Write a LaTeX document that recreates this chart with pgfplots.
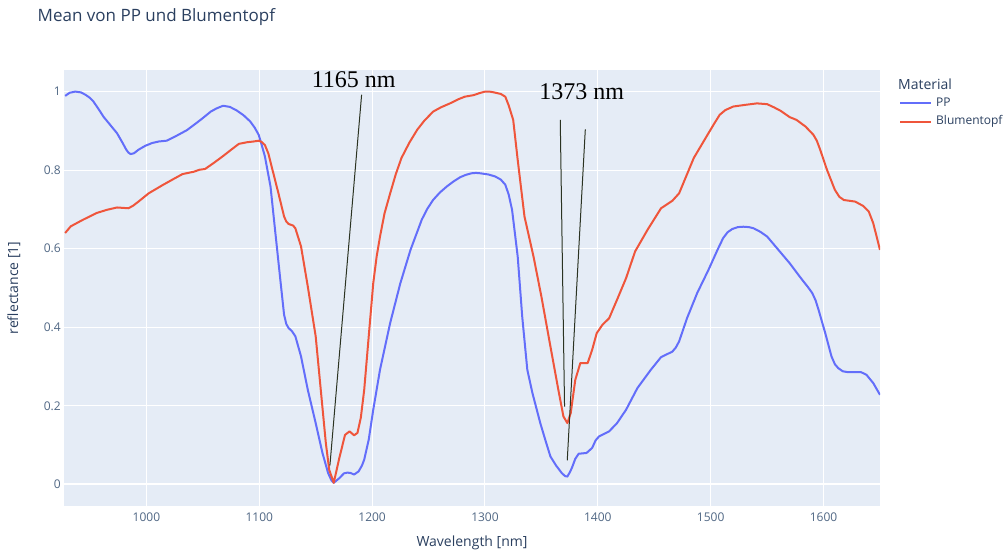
\documentclass[border=0pt]{standalone}
\usepackage{fontspec}
\setmainfont{Open Sans}
\newfontfamily\annotfont{Liberation Serif}
\usepackage{pgfplots}
\pgfplotsset{compat=1.18}
\usepackage{pgfplotstable}
\definecolor{plotbg}{HTML}{E5ECF6}
\definecolor{ppblue}{HTML}{636EFA}
\definecolor{blred}{HTML}{EF553B}
\definecolor{txt}{HTML}{2A3F5F}
\definecolor{ticktxt}{HTML}{506784}
\definecolor{annot}{HTML}{2B3322}

\pgfplotstableread{
x y
928 0.989
932 0.997
937 1.000
942 0.998
946 0.992
950 0.984
953 0.975
958 0.954
962 0.936
968 0.915
974 0.894
979 0.869
982 0.853
984 0.845
986 0.841
989 0.843
993 0.852
999 0.862
1005 0.869
1011 0.873
1018 0.875
1027 0.888
1036 0.902
1042 0.915
1048 0.928
1057 0.949
1062 0.957
1068 0.964
1074 0.961
1080 0.952
1086 0.940
1092 0.924
1096 0.908
1099.5 0.890
1102 0.866
1105 0.835
1110 0.758
1114 0.648
1119 0.512
1122 0.432
1124 0.408
1126 0.398
1129 0.390
1132 0.377
1137 0.326
1143 0.241
1150 0.156
1156 0.080
1161 0.029
1164 0.010
1166 0.004
1171 0.016
1175 0.028
1178 0.030
1181 0.029
1184 0.025
1188 0.033
1191 0.048
1193 0.063
1197 0.114
1201 0.190
1207 0.292
1216 0.411
1225 0.512
1234 0.597
1244 0.674
1249 0.702
1254 0.724
1260 0.743
1266 0.758
1272 0.771
1278 0.782
1283 0.788
1288 0.792
1292 0.793
1296 0.792
1303 0.789
1309 0.784
1314 0.776
1318 0.763
1321 0.738
1324 0.699
1329 0.580
1333 0.427
1337.5 0.292
1342 0.233
1349 0.156
1354 0.108
1358 0.071
1363 0.048
1368 0.029
1371 0.021
1373 0.020
1375 0.030
1377 0.042
1380 0.065
1383 0.078
1390 0.080
1395 0.093
1398 0.112
1401 0.122
1410 0.135
1417 0.156
1425 0.190
1435 0.245
1447 0.292
1456 0.324
1466 0.338
1469 0.348
1472 0.364
1479 0.423
1488 0.487
1498 0.546
1506 0.597
1511 0.627
1515 0.642
1519 0.650
1524 0.655
1529 0.656
1534 0.655
1538 0.652
1544 0.643
1550 0.631
1560 0.597
1570 0.563
1581 0.521
1586 0.503
1590 0.487
1593 0.468
1595.5 0.445
1601.5 0.385
1607 0.326
1610 0.306
1613 0.296
1617 0.288
1621 0.286
1633 0.286
1638 0.279
1644 0.258
1650 0.228
}\ppdata

\pgfplotstableread{
x y
928 0.640
933 0.657
944 0.674
956 0.691
965 0.699
974 0.705
984 0.703
988 0.709
993 0.720
1002 0.741
1015 0.763
1025 0.779
1032 0.790
1042 0.796
1047 0.801
1052 0.803
1060 0.819
1068 0.836
1076 0.854
1082 0.867
1089 0.871
1095 0.873
1099.5 0.875
1102 0.872
1105 0.864
1108 0.843
1111 0.809
1117 0.741
1122 0.682
1124 0.669
1126 0.663
1130 0.659
1132 0.652
1137 0.606
1143 0.504
1150 0.377
1154.5 0.241
1159 0.105
1162 0.037
1166 0.004
1171 0.068
1176 0.126
1180 0.135
1184 0.125
1187 0.131
1190 0.170
1193 0.241
1197 0.377
1201 0.512
1204 0.580
1207 0.631
1211 0.690
1216 0.741
1221 0.790
1226 0.831
1233 0.870
1240 0.903
1246 0.925
1254 0.949
1261 0.960
1269 0.970
1276 0.980
1282 0.987
1290 0.991
1295 0.996
1300 1.000
1304 1.000
1308 0.998
1314 0.994
1318 0.987
1321 0.965
1325 0.928
1329 0.826
1335 0.682
1343 0.580
1350 0.478
1358 0.351
1365 0.241
1369.5 0.173
1373 0.156
1376 0.182
1380 0.266
1384.5 0.309
1391 0.309
1395 0.343
1399 0.385
1404 0.406
1410 0.423
1417 0.470
1425 0.525
1433 0.593
1444 0.648
1456 0.703
1466 0.722
1472 0.741
1485 0.831
1498 0.894
1503 0.918
1508 0.941
1513 0.953
1520 0.962
1530 0.966
1541 0.970
1550 0.968
1556 0.960
1562 0.951
1570 0.935
1576 0.928
1584 0.911
1591 0.890
1594 0.875
1597 0.852
1603 0.801
1610 0.750
1614 0.732
1618 0.724
1628 0.720
1635 0.709
1640 0.695
1644 0.665
1650 0.597
}\bldata

\begin{document}
\begin{tikzpicture}
\path[use as bounding box] (-64bp,-47bp) rectangle (939bp,506bp);
\begin{axis}[
  at={(0bp,0bp)}, anchor=south west,
  scale only axis, width=816bp, height=436bp,
  xmin=927, xmax=1650, ymin=-0.055, ymax=1.055,
  axis background/.style={fill=plotbg},
  axis line style={draw=none},
  tick style={draw=none}, major tick length=0pt,
  grid=major, major grid style={white, line width=1bp},
  xtick={1000,1100,1200,1300,1400,1500,1600},
  xticklabels={1000,1100,1200,1300,1400,1500,1600},
  ytick={0,0.2,0.4,0.6,0.8,1},
  yticklabels={0,0.2,0.4,0.6,0.8,1},
  xticklabel style={font=\fontsize{12bp}{14bp}\selectfont, text=ticktxt, anchor=north, inner sep=0pt, yshift=-6.5bp},
  yticklabel style={font=\fontsize{12bp}{14bp}\selectfont, text=ticktxt, anchor=east, inner sep=0pt, xshift=-3bp},
  clip=true,
]
\addplot[white, line width=2bp, forget plot] coordinates {(927,0) (1650,0)};
\addplot[ppblue, line width=2bp, line join=round] table[x=x,y=y] {\ppdata};
\addplot[blred, line width=2bp, line join=round] table[x=x,y=y] {\bldata};
\addplot[annot, line width=1bp, forget plot] coordinates {(1190.7,0.992) (1162.6,0.048)};
\addplot[annot, line width=1bp, forget plot] coordinates {(1366.7,0.928) (1370.5,0.198)};
\addplot[annot, line width=1bp, forget plot] coordinates {(1388.9,0.904) (1372.9,0.061)};
\end{axis}
% annotations text
\node[anchor=base, inner sep=0pt, font=\annotfont\fontsize{24bp}{28bp}\selectfont, text=black] at (289.7bp,418.7bp) {1165 nm};
\node[anchor=base, inner sep=0pt, font=\annotfont\fontsize{24bp}{28bp}\selectfont, text=black] at (517.7bp,406.7bp) {1373 nm};
% title
\node[anchor=base west, inner sep=0pt, font=\fontsize{17bp}{20bp}\selectfont, text=txt] at (-26.5bp,484.3bp) {Mean von PP und Blumentopf};
% axis titles
\node[anchor=center, inner sep=0pt, font=\fontsize{14bp}{17bp}\selectfont, text=txt] at (408bp,-37bp) {Wavelength [nm]};
\node[anchor=center, inner sep=0pt, rotate=90, font=\fontsize{14bp}{17bp}\selectfont, text=txt] at (-50bp,218bp) {reflectance [1]};
% legend
\node[anchor=west, inner sep=0pt, font=\fontsize{14bp}{17bp}\selectfont, text=txt] at (834bp,422bp) {Material};
\draw[ppblue, line width=2bp] (836bp,403.3bp) -- (867bp,403.3bp);
\draw[blred, line width=2bp] (836bp,384.3bp) -- (867bp,384.3bp);
\node[anchor=west, inner sep=0pt, font=\fontsize{12bp}{14bp}\selectfont, text=txt] at (872bp,403.3bp) {PP};
\node[anchor=west, inner sep=0pt, font=\fontsize{12bp}{14bp}\selectfont, text=txt] at (872bp,384.3bp) {Blumentopf};
\end{tikzpicture}
\end{document}
